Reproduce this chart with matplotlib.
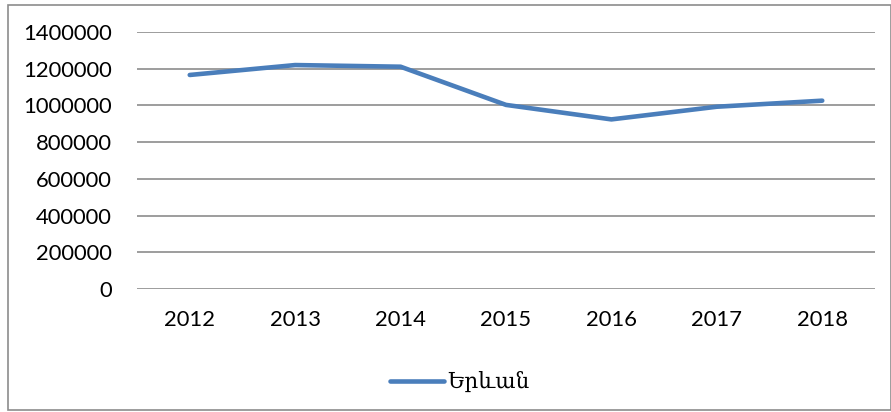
import matplotlib.pyplot as plt
from matplotlib.patches import Rectangle

years = ['2012', '2013', '2014', '2015', '2016', '2017', '2018']
yerevan = [1166000, 1220000, 1211000, 1003000, 924000, 993000, 1026000]
yticks = [0, 200000, 400000, 600000, 800000, 1000000, 1200000, 1400000]

fig = plt.figure(figsize=(8.91, 4.12), dpi=100)
ax = fig.add_axes([0.1538, 0.2985, 0.982 - 0.1538, 0.9223 - 0.2985])

x = list(range(len(years)))
ax.plot(x, yerevan, color='#4a7ebb', linewidth=3.3, solid_capstyle='round',
        solid_joinstyle='round', label='Երևան', zorder=3)

ax.set_xlim(-0.5, len(years) - 0.5)
ax.set_ylim(0, 1400000)
ax.set_yticks(yticks)
ax.set_yticklabels([str(v) for v in yticks])
ax.set_xticks(x)
ax.set_xticklabels(years)
ax.yaxis.grid(True, color='#8c8c8c', linewidth=1.2)
ax.set_axisbelow(True)
for s in ax.spines.values():
    s.set_visible(False)
ax.tick_params(axis='both', length=0, labelsize=15.8, labelcolor='black')
ax.tick_params(axis='y', pad=18)
ax.tick_params(axis='x', pad=15)
for lab in ax.get_xticklabels() + ax.get_yticklabels():
    lab.set_family('Lato')

leg = fig.legend(loc='center', bbox_to_anchor=(0.516, 0.072), frameon=False,
                 handlelength=2.5, handletextpad=0.15,
                 prop={'family': ['DejaVu Serif', 'DejaVu Sans'], 'size': 15.5})

# outer chart frame
fig.patches.append(Rectangle((8 / 891, 1 - 410 / 412), 883 / 891, 405 / 412,
                             transform=fig.transFigure, fill=False,
                             edgecolor='#8c8c8c', linewidth=1.2))

fig.savefig('out.png', dpi=100)
